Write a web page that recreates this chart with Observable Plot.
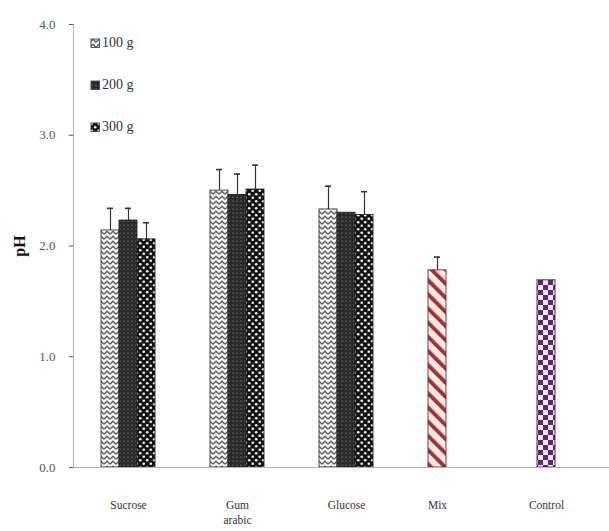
<!DOCTYPE html>
<html>
<head>
<meta charset="utf-8">
<script src="https://cdn.jsdelivr.net/npm/d3@7"></script>
<script src="https://cdn.jsdelivr.net/npm/@observablehq/plot@0.6"></script>
<style>
  html, body { margin: 0; padding: 0; background: #fff; }
  #wrap { position: relative; width: 609px; height: 531px; font-family: "Liberation Serif", serif; }
  #legend { position: absolute; left: 90px; top: 34px; }
  .item { display: flex; align-items: center; height: 18px; margin-bottom: 24px; font-size: 14px; color: #333; }
  .item svg { margin-right: 1px; }
</style>
</head>
<body>
<svg width="0" height="0" style="position:absolute">
  <defs>
    <pattern id="p100" width="6" height="5" patternUnits="userSpaceOnUse">
      <rect width="6" height="5" fill="#f6f6f6"/>
      <path d="M0,4.2 L3,1.2 L6,4.2" fill="none" stroke="#5e5e5e" stroke-width="1.4"/>
    </pattern>
    <pattern id="p200" width="4" height="4" patternUnits="userSpaceOnUse">
      <rect width="4" height="4" fill="#2a2a2a"/>
      <rect x="1.5" y="0.5" width="1" height="1.4" fill="#7e7e7e"/>
    </pattern>
    <pattern id="p300" width="7" height="7" patternUnits="userSpaceOnUse">
      <rect width="7" height="7" fill="#141414"/>
      <circle cx="1.75" cy="1.75" r="1.3" fill="#f2f2f2"/>
      <circle cx="5.25" cy="5.25" r="1.3" fill="#f2f2f2"/>
    </pattern>
    <pattern id="pMix" width="10" height="10" patternUnits="userSpaceOnUse" patternTransform="rotate(-45)">
      <rect width="10" height="10" fill="#fce6e2"/>
      <rect width="3.8" height="10" fill="#9a3434"/>
    </pattern>
    <pattern id="pControl" width="10" height="10" patternUnits="userSpaceOnUse">
      <rect width="10" height="10" fill="#f4e8f8"/>
      <rect width="5" height="5" fill="#5b2a6d"/>
      <rect x="5" y="5" width="5" height="5" fill="#5b2a6d"/>
    </pattern>
  </defs>
</svg>
<div id="wrap">
  <div id="chart"></div>
  <div id="legend"></div>
</div>
<script>
// ---- data ----
const categories = ["Sucrose", "Gum arabic", "Glucose", "Mix", "Control"];
const categoryLabels = ["Sucrose", "Gum\narabic", "Glucose", "Mix", "Control"];
const doses = ["100 g", "200 g", "300 g"];
const legendLabels = ["100 g", "200 g", "300 g"];

const sucroseValues = [2.14, 2.23, 2.06];
const sucroseErrors = [0.20, 0.11, 0.15];
const gumArabicValues = [2.50, 2.46, 2.51];
const gumArabicErrors = [0.19, 0.19, 0.22];
const glucoseValues = [2.33, 2.30, 2.28];
const glucoseErrors = [0.21, 0.00, 0.21];
const mixValue = 1.78;
const mixError = 0.12;
const controlValue = 1.69;
const controlError = 0.00;

const yTicks = [0, 1, 2, 3, 4];

// ---- styles ----
const fills = {"100 g": "url(#p100)", "200 g": "url(#p200)", "300 g": "url(#p300)", "Mix": "url(#pMix)", "Control": "url(#pControl)"};
const strokes = {"100 g": "#3a3a3a", "200 g": "#222", "300 g": "#222", "Mix": "#6b2a2a", "Control": "#3f1d4d"};

// ---- table ----
const rows = [];
[[sucroseValues, sucroseErrors], [gumArabicValues, gumArabicErrors], [glucoseValues, glucoseErrors]].forEach(([vals, errs], ci) => {
  doses.forEach((d, i) => rows.push({category: categories[ci], slot: d, series: d, value: vals[i], err: errs[i]}));
});
rows.push({category: "Mix", slot: doses[0], series: "Mix", value: mixValue, err: mixError});
rows.push({category: "Control", slot: doses[0], series: "Control", value: controlValue, err: controlError});
const errRows = rows.filter(d => d.err > 0);

const labelRows = categories.map((c, i) => ({
  category: c,
  slot: i < 3 ? doses[1] : doses[0],
  label: categoryLabels[i]
}));

const font = "Liberation Serif, Times New Roman, serif";

const chart = Plot.plot({
  width: 609,
  height: 531,
  marginTop: 24,
  marginBottom: 64,
  marginLeft: 71,
  marginRight: -11,
  style: {fontFamily: font, background: "#fff"},
  fx: {domain: categories, padding: 0, axis: null},
  x: {domain: doses, paddingInner: 0, paddingOuter: 1.4, axis: null},
  y: {domain: [0, 4], axis: null},
  color: {type: "identity"},
  marks: [
    Plot.barY(rows, {fx: "category", x: "slot", y: "value",
      fill: d => fills[d.series], stroke: d => strokes[d.series], strokeWidth: 0.9}),
    Plot.ruleX(errRows, {fx: "category", x: "slot", y1: "value", y2: d => d.value + d.err, stroke: "#333", strokeWidth: 1.2}),
    Plot.tickY(errRows, {fx: "category", x: "slot", y: d => d.value + d.err, stroke: "#333", strokeWidth: 1.6, insetLeft: 6, insetRight: 6}),
    Plot.ruleY([0], {stroke: "#b5b5b5", strokeWidth: 1}),
    Plot.frame({anchor: "left", facetAnchor: "left", stroke: "#b5b5b5"}),
    Plot.axisY({ticks: yTicks, tickFormat: d3.format(".1f"), tickSize: 4, tickPadding: 14,
      label: null, fontSize: 13, color: "#555", fontFamily: font}),
    Plot.text(["pH"], {frameAnchor: "left", facetAnchor: "left", rotate: -90, dx: -54, dy: 0,
      textAnchor: "middle", fontWeight: "bold", fontSize: 16, fill: "#111", fontFamily: font}),
    Plot.text(labelRows, {fx: "category", x: "slot", text: "label", frameAnchor: "bottom",
      lineAnchor: "top", dy: 31, fontSize: 11.5, lineHeight: 1.3, fill: "#333", fontFamily: font})
  ]
});
document.getElementById("chart").appendChild(chart);

// ---- legend ----
const legend = d3.select("#legend");
legendLabels.forEach((lab, i) => {
  const item = legend.append("div").attr("class", "item");
  const s = item.append("svg").attr("width", 11).attr("height", 11);
  s.append("rect").attr("x", 1).attr("y", 1).attr("width", 8.5).attr("height", 8.5)
    .attr("fill", fills[doses[i]]).attr("stroke", "#444").attr("stroke-width", 0.9);
  item.append("span").text(lab);
});
</script>
</body>
</html>
